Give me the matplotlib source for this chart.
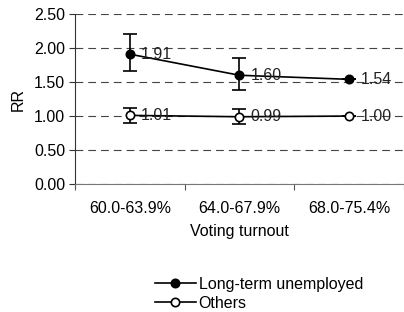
import matplotlib
matplotlib.use("Agg")
import matplotlib.pyplot as plt
from matplotlib.lines import Line2D
import numpy as np

plt.rcParams['font.family'] = ['Liberation Sans', 'DejaVu Sans']
plt.rcParams['font.size'] = 11.5

categories = ["60.0-63.9%", "64.0-67.9%", "68.0-75.4%"]
ltu_rr = [1.91, 1.60, 1.54]
ltu_low = [1.66, 1.39, 1.54]
ltu_high = [2.20, 1.85, 1.54]
oth_rr = [1.01, 0.99, 1.00]
oth_low = [0.90, 0.88, 1.00]
oth_high = [1.12, 1.10, 1.00]

fig = plt.figure(figsize=(4.04, 3.12), dpi=100)
ax = fig.add_axes([0.1856, 0.410, 0.8144, 0.545])

x = np.arange(len(categories)) + 0.5

handles = []
for rr, lo, hi, face, lab in [(ltu_rr, ltu_low, ltu_high, "black", "Long-term unemployed"),
                              (oth_rr, oth_low, oth_high, "white", "Others")]:
    rr = np.array(rr)
    err = [rr - np.array(lo), np.array(hi) - rr]
    ax.errorbar(x, rr, yerr=err, color="black", lw=1.2, capsize=5, capthick=1.2,
                marker="o", ms=6, mfc=face, mec="black", mew=1.2, zorder=3)
    for xi, v in zip(x, rr):
        ax.annotate(f"{v:.2f}", (xi, v), xytext=(8, 0), textcoords="offset points",
                    va="center", ha="left", color="#222222", zorder=4)
    handles.append(Line2D([], [], color="black", lw=1.2, marker="o", ms=6,
                          mfc=face, mec="black", mew=1.2, label=lab))

ax.set_xlim(0, 3)
ax.set_ylim(0, 2.5)
ax.set_yticks(np.arange(0, 2.51, 0.5))
ax.set_yticklabels([f"{v:.2f}" for v in np.arange(0, 2.51, 0.5)])
ax.set_xticks([0, 1, 2, 3])
ax.set_xticklabels([])
ax.set_xticks(x, minor=True)
ax.set_xticklabels(categories, minor=True)
ax.tick_params(axis="x", which="minor", length=0, pad=12)
ax.tick_params(axis="x", which="major", length=4, color="#555555", direction="out")
ax.tick_params(axis="y", length=4, color="#333333", direction="out", pad=3)

ax.grid(axis="y", color="#444444", linestyle=(0, (7, 4.5)), lw=0.8)
ax.set_axisbelow(True)
for s in ["top", "right"]:
    ax.spines[s].set_visible(False)
ax.spines["bottom"].set_color("#777777")
ax.spines["left"].set_color("#333333")

ax.set_xlabel("Voting turnout", labelpad=6)
ax.set_ylabel("RR", labelpad=6)

fig.legend(handles=handles, loc="upper left", bbox_to_anchor=(0.383, 0.112),
           frameon=False, handlelength=2.6, handletextpad=0.15, labelspacing=0.22,
           borderaxespad=0, borderpad=0)

fig.savefig("out.png", dpi=100)
